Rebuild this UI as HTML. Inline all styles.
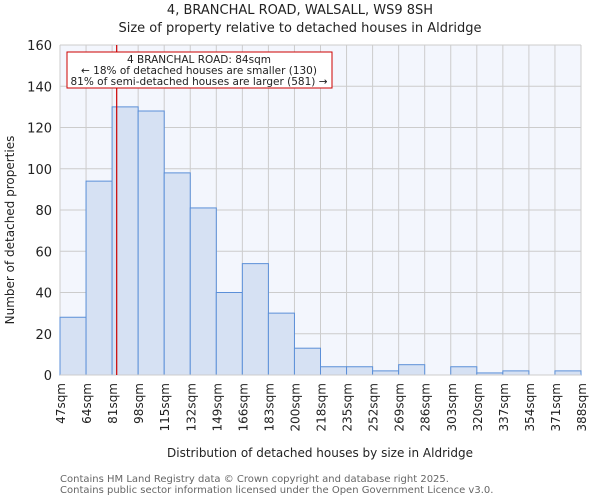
<!DOCTYPE html>
<html><head><meta charset="utf-8"><style>
body{margin:0;background:#fff;font-family:"DejaVu Sans","Liberation Sans",sans-serif}
</style></head><body>
<svg width="600" height="500" xmlns="http://www.w3.org/2000/svg" font-family="DejaVu Sans, Liberation Sans, sans-serif">
<text x="300" y="14" text-anchor="middle" font-size="13" fill="#222">4, BRANCHAL ROAD, WALSALL, WS9 8SH</text>
<text x="300" y="32" text-anchor="middle" font-size="13" fill="#222">Size of property relative to detached houses in Aldridge</text>
<rect x="60" y="45" width="521" height="330" fill="#f3f6fd"/>
<g id="grid"></g><g id="bars"></g><g id="ticks"></g>
<line x1="60" y1="375" x2="581" y2="375" stroke="#ccc"/>
<g id="marker"></g>
<rect x="67" y="52" width="265" height="36" fill="#fff" stroke="#c00"/>
<text x="199" y="63" text-anchor="middle" font-size="10.5" fill="#222">4 BRANCHAL ROAD: 84sqm</text>
<text x="199" y="74" text-anchor="middle" font-size="10.5" fill="#222">← 18% of detached houses are smaller (130)</text>
<text x="199" y="85" text-anchor="middle" font-size="10.5" fill="#222">81% of semi-detached houses are larger (581) →</text>
<text transform="translate(14,230) rotate(-90)" text-anchor="middle" font-size="12" fill="#222">Number of detached properties</text>
<text x="320" y="457" text-anchor="middle" font-size="12" fill="#222">Distribution of detached houses by size in Aldridge</text>
<text x="60" y="482" font-size="10" fill="#666">Contains HM Land Registry data © Crown copyright and database right 2025.</text>
<text x="60" y="493" font-size="10" fill="#666">Contains public sector information licensed under the Open Government Licence v3.0.</text>
</svg>
<script>
const binLabels=["47sqm","64sqm","81sqm","98sqm","115sqm","132sqm","149sqm","166sqm","183sqm","200sqm","218sqm","235sqm","252sqm","269sqm","286sqm","303sqm","320sqm","337sqm","354sqm","371sqm","388sqm"];
const binEdges=[47,64,81,98,115,132,149,166,183,200,218,235,252,269,286,303,320,337,354,371,388];
const counts=[28,94,130,128,98,81,40,54,30,13,4,4,2,5,0,4,1,2,0,2];
const yTicks=[0,20,40,60,80,100,120,140,160];
const markerValue=84;
const NS="http://www.w3.org/2000/svg";
const X0=60,X1=581,Y0=375,Y1=45,n=counts.length;
const xi=i=>X0+(X1-X0)*i/n;
const xv=v=>{for(let i=0;i<binEdges.length-1;i++){if(v<=binEdges[i+1])return xi(i)+(v-binEdges[i])/(binEdges[i+1]-binEdges[i])*(xi(i+1)-xi(i));}return X1;};
const y=v=>Y0-(Y0-Y1)*v/160;
function mk(t,a,p){const e=document.createElementNS(NS,t);for(const k in a)e.setAttribute(k,a[k]);document.getElementById(p).appendChild(e);return e;}
yTicks.forEach(t=>{const l=mk('line',{x1:X0,x2:X1,y1:y(t),y2:y(t),stroke:'#ccc'},'grid');


const tx=mk('text',{x:52,y:y(t)+5,'text-anchor':'end','font-size':13,fill:'#222'},'ticks');tx.textContent=t;

});
binLabels.forEach((s,i)=>{const l=mk('line',{x1:xi(i),x2:xi(i),y1:Y1,y2:Y0,stroke:'#ccc'},'grid');


const tx=mk('text',{transform:`translate(${xi(i)+5},383) rotate(-90)`,'text-anchor':'end','font-size':12,fill:'#222'},'ticks');tx.textContent=s;

});
counts.forEach((c,i)=>{if(c<=0)return;const r=mk('rect',{x:xi(i),y:y(c),width:xi(i+1)-xi(i),height:Y0-y(c),fill:'#d6e1f3',stroke:'#5b8fd8','stroke-width':1},'bars');

});
const m=mk('line',{x1:xv(markerValue),x2:xv(markerValue),y1:Y1,y2:Y0,stroke:'#c00','stroke-width':1.2},'marker');


</script>
</body></html>
